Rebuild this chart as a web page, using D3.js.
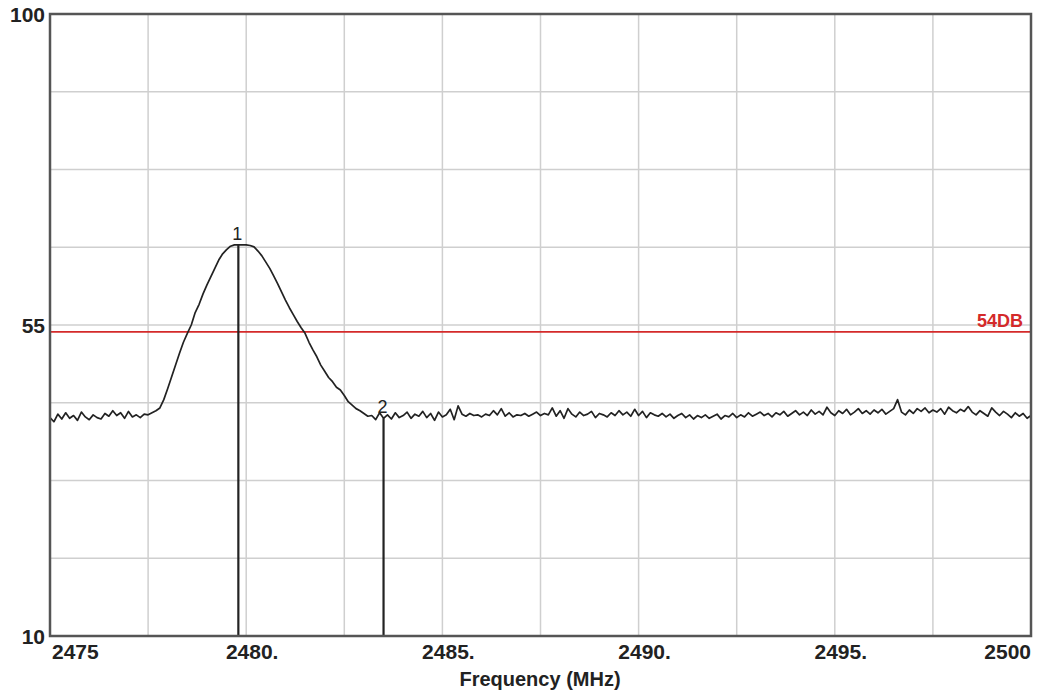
<!DOCTYPE html>
<html>
<head>
<meta charset="utf-8">
<script src="https://cdn.jsdelivr.net/npm/d3@7"></script>
<style>
  body { margin: 0; background: #fff; }
  text { font-family: "Liberation Sans Narrow", "Arial Narrow", "Liberation Sans", Arial, sans-serif; }
</style>
</head>
<body>
<script>
var w = 1054;
var h = 693;

// spectrum trace, one reading every 0.1 MHz from 2475.0 to 2500.0
var startFreq = 2475.0;
var stepFreq = 0.1;
var level = [].concat(
  // 2475.0 - 2477.7
  [41.6, 41.0, 42.1, 41.4, 42.3, 41.5, 41.9, 41.2, 42.4, 41.7],
  [41.3, 42.0, 41.6, 41.4, 42.2, 41.8, 42.6, 41.9, 42.3, 41.5],
  [42.5, 41.7, 42.0, 41.6, 42.1, 42.0, 42.3, 42.6],
  // 2477.8 - 2483.5 (carrier)
  [43.0, 44.2, 45.8, 47.5, 49.2, 50.9, 52.5, 53.8, 55.0, 56.8],
  [58.0, 59.5, 60.8, 62.0, 63.2, 64.4, 65.3, 65.9, 66.4, 66.6],
  [66.6, 66.6, 66.6, 66.5, 66.3, 65.7, 65.0, 64.1, 63.2, 62.1],
  [61.0, 59.8, 58.6, 57.5, 56.5, 55.5, 54.6, 53.8, 52.5, 51.4],
  [50.4, 49.2, 48.3, 47.4, 46.8, 46.0, 45.6, 44.8, 43.9, 43.4],
  [42.9, 42.6, 42.2, 41.8, 41.9, 41.3, 42.3, 41.5],
  // 2483.6 - 2500.0
  [42.0, 41.4, 42.3, 41.6, 41.9, 42.4, 41.5, 42.1, 41.8, 42.5],
  [41.6, 42.2, 41.2, 42.4, 41.7, 42.0, 42.8, 41.3, 43.3, 42.1],
  [41.8, 42.2, 41.9, 42.0, 41.7, 42.1, 41.9, 42.6, 42.0, 42.9],
  [41.8, 42.3, 41.7, 42.0, 41.9, 42.2, 41.8, 42.1, 42.4, 41.9],
  [42.2, 42.0, 43.0, 41.8, 42.6, 41.5, 42.9, 42.1, 41.7, 42.4],
  [41.9, 42.1, 42.5, 41.6, 42.2, 42.0, 41.7, 42.3, 41.9, 42.6],
  [42.0, 42.4, 41.8, 42.8, 41.9, 42.5, 41.6, 42.3, 42.0, 41.8],
  [42.2, 41.7, 42.1, 41.5, 41.9, 42.2, 41.6, 42.0, 41.4, 41.9],
  [41.6, 42.0, 41.5, 41.8, 42.1, 41.4, 41.9, 41.7, 42.2, 41.6],
  [42.0, 41.7, 42.3, 41.8, 42.1, 42.4, 41.9, 42.2, 41.7, 42.3],
  [42.0, 42.5, 41.8, 42.2, 42.6, 42.0, 42.4, 41.9, 42.7, 42.1],
  [42.5, 42.0, 43.1, 42.3, 41.9, 42.6, 42.2, 42.8, 42.0, 42.4],
  [42.9, 42.2, 42.6, 42.1, 42.7, 42.3, 42.8, 42.1, 42.5, 42.9],
  [44.2, 42.4, 42.0, 42.7, 42.2, 42.9, 42.5, 43.0, 42.3, 42.7],
  [42.4, 42.9, 42.1, 43.1, 42.6, 42.3, 42.8, 42.5, 43.2, 42.4],
  [42.0, 42.6, 42.2, 41.8, 43.0, 42.4, 41.9, 42.5, 42.1, 41.6],
  [42.3, 41.8, 42.2, 41.5, 41.9]
);

var markerFreq = [2479.8, 2483.5];
var markerLevel = [66.6, 41.5];
var markerName = ["1", "2"];

var limitLevel = 54;
var limitName = "54DB";

var xTicks = [2475, 2480, 2485, 2490, 2495, 2500];
var xTickLabels = ["2475", "2480.", "2485.", "2490.", "2495.", "2500"];
var yTicks = [100, 55, 10];

var plotL = 50, plotR = 1031, plotT = 14, plotB = 636;

var x = d3.scaleLinear().domain([2475, 2500]).range([plotL, plotR]);
var y = d3.scaleLinear().domain([10, 100]).range([plotB, plotT]);

var svg = d3.select("body")
  .append("svg")
  .attr("width", w)
  .attr("height", h);

// grid
svg.append("g")
  .selectAll("line")
  .data(d3.range(2477.5, 2500, 2.5))
  .enter()
  .append("line")
  .attr("x1", function(d) { return x(d); })
  .attr("x2", function(d) { return x(d); })
  .attr("y1", plotT)
  .attr("y2", plotB)
  .attr("stroke", "#cfcfcf")
  .attr("stroke-width", 1.5);

svg.append("g")
  .selectAll("line")
  .data(d3.range(1, 8).map(function(k) { return 10 + k * 11.25; }))
  .enter()
  .append("line")
  .attr("x1", plotL)
  .attr("x2", plotR)
  .attr("y1", function(d) { return y(d); })
  .attr("y2", function(d) { return y(d); })
  .attr("stroke", "#cfcfcf")
  .attr("stroke-width", 1.5);

// limit line
svg.append("line")
  .attr("x1", plotL)
  .attr("x2", plotR)
  .attr("y1", y(limitLevel))
  .attr("y2", y(limitLevel))
  .attr("stroke", "#d42a2a")
  .attr("stroke-width", 1.6);

svg.append("text")
  .attr("x", plotR - 8)
  .attr("y", y(limitLevel) - 5)
  .attr("text-anchor", "end")
  .attr("font-size", 18)
  .attr("font-weight", "bold")
  .attr("fill", "#d42a2a")
  .text(limitName);

// trace
var line = d3.line()
  .x(function(d, i) { return x(startFreq + i * stepFreq); })
  .y(function(d) { return y(d); });

svg.append("path")
  .datum(level)
  .attr("d", line)
  .attr("fill", "none")
  .attr("stroke", "#222")
  .attr("stroke-width", 1.7)
  .attr("stroke-linejoin", "round");

// markers
var markers = svg.append("g")
  .selectAll("g")
  .data(markerFreq)
  .enter()
  .append("g");

markers.append("line")
  .attr("x1", function(d) { return x(d); })
  .attr("x2", function(d) { return x(d); })
  .attr("y1", function(d, i) { return y(markerLevel[i]); })
  .attr("y2", plotB)
  .attr("stroke", "#222")
  .attr("stroke-width", 2.2);

markers.append("text")
  .attr("x", function(d) { return x(d) - 1; })
  .attr("y", function(d, i) { return y(markerLevel[i]) - 5; })
  .attr("text-anchor", "middle")
  .attr("font-size", 18)
  .attr("fill", "#222")
  .style("font-family", "'Liberation Sans', Arial, sans-serif")
  .text(function(d, i) { return markerName[i]; });

// frame
svg.append("rect")
  .attr("x", plotL)
  .attr("y", plotT)
  .attr("width", plotR - plotL)
  .attr("height", plotB - plotT)
  .attr("fill", "none")
  .attr("stroke", "#555")
  .attr("stroke-width", 2.5);

// y labels
svg.append("g")
  .selectAll("text")
  .data(yTicks)
  .enter()
  .append("text")
  .attr("x", plotL - 5)
  .attr("y", function(d) { return y(d) + 8; })
  .attr("text-anchor", "end")
  .attr("font-size", 21)
  .attr("font-weight", "bold")
  .attr("fill", "#222")
  .text(function(d) { return d; });

// x labels
svg.append("g")
  .selectAll("text")
  .data(xTicks)
  .enter()
  .append("text")
  .attr("x", function(d, i) { return x(d) + (i === 0 ? 2 : i === xTicks.length - 1 ? 0 : 6); })
  .attr("y", plotB + 23)
  .attr("text-anchor", function(d, i) { return i === 0 ? "start" : i === xTicks.length - 1 ? "end" : "middle"; })
  .attr("font-size", 21)
  .attr("font-weight", "bold")
  .attr("fill", "#222")
  .text(function(d, i) { return xTickLabels[i]; });

svg.append("text")
  .attr("x", 540)
  .attr("y", 686)
  .attr("text-anchor", "middle")
  .attr("font-size", 20)
  .attr("font-weight", "bold")
  .attr("fill", "#222")
  .text("Frequency (MHz)");
</script>
</body>
</html>
